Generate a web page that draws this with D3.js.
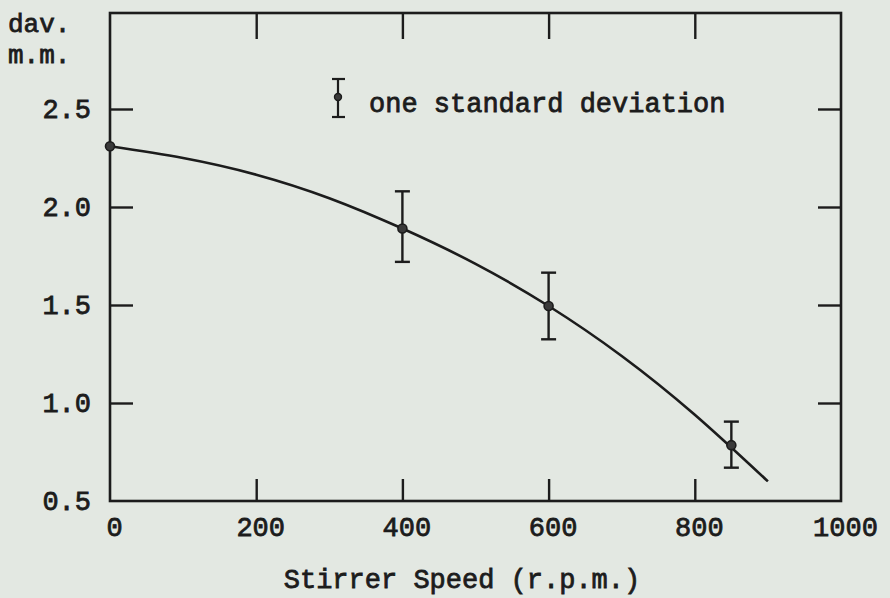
<!DOCTYPE html>
<html>
<head>
<meta charset="utf-8">
<script src="https://cdn.jsdelivr.net/npm/d3@7"></script>
<style>
  html, body { margin: 0; padding: 0; background: #e3e8e2; }
  svg { display: block; }
  text { font-family: "Liberation Mono", "DejaVu Sans Mono", monospace; fill: #1c1c1c; }
</style>
</head>
<body>
<svg id="chart" width="890" height="598"></svg>
<script>
// ---- data ----
const xTicks = [0, 200, 400, 600, 800, 1000];
const yTicks = [0.5, 1.0, 1.5, 2.0, 2.5];

// smooth fitted curve (hand-drawn in the original)
const curveSpeed = [0, 100, 200, 300, 400, 500, 600, 700, 800, 900];
const curveDav   = [2.31, 2.25, 2.165, 2.045, 1.89, 1.71, 1.495, 1.24, 0.94, 0.60];

// measured points with one standard deviation
const pointSpeed = [0, 400, 600, 850];
const pointDav   = [2.31, 1.89, 1.495, 0.785];
const pointLow   = [null, 1.72, 1.325, 0.67];
const pointHigh  = [null, 2.08, 1.665, 0.905];

const yLabelLines = ["dav.", "m.m."];
const xTitle = "Stirrer Speed (r.p.m.)";
const legendText = "one standard deviation";

// ---- drawing ----
const ink = "#1c1c1c";
const svg = d3.select("#chart");

const x = d3.scaleLinear().domain([0, 1000]).range([110, 841]);
const y = d3.scaleLinear().domain([0.5, 3.0]).range([501, 11]);

// frame
svg.append("rect")
  .attr("x", x(0)).attr("y", 13)
  .attr("width", x(1000) - x(0)).attr("height", y(0.5) - 13)
  .attr("fill", "none").attr("stroke", ink).attr("stroke-width", 2.6);

function styleAxis(g) {
  g.select(".domain").remove();
  g.selectAll(".tick line").attr("stroke", ink).attr("stroke-width", 2.4);
  g.selectAll(".tick text")
    .attr("font-size", 27)
    .attr("fill", ink)
    .attr("stroke", ink).attr("stroke-width", 0.8)
    .attr("font-family", "'Liberation Mono', 'DejaVu Sans Mono', monospace");
}

// left axis (labels + inward ticks)
svg.append("g")
  .attr("transform", `translate(${x(0)},0)`)
  .call(d3.axisLeft(y).tickValues(yTicks).tickFormat(d3.format(".1f"))
        .tickSizeInner(-23).tickSizeOuter(0).tickPadding(19))
  .call(styleAxis)
  .call(g => g.selectAll(".tick").filter(d => d === 0.5).select("line").remove());

// right axis (inward ticks only)
svg.append("g")
  .attr("transform", `translate(${x(1000)},0)`)
  .call(d3.axisRight(y).tickValues(yTicks.filter(d => d > 0.5)).tickFormat("")
        .tickSizeInner(-23).tickSizeOuter(0))
  .call(styleAxis);

// bottom axis
svg.append("g")
  .attr("transform", `translate(0,${y(0.5)})`)
  .call(d3.axisBottom(x).tickValues(xTicks).tickFormat(d3.format("d"))
        .tickSizeInner(-22).tickSizeOuter(0).tickPadding(16))
  .call(styleAxis)
  .call(g => g.selectAll(".tick text").attr("dx", 4))
  .call(g => g.selectAll(".tick").filter(d => d === 0 || d === 1000).select("line").remove());

// top axis (inward ticks only)
svg.append("g")
  .attr("transform", `translate(0,13)`)
  .call(d3.axisTop(x).tickValues(xTicks.filter(d => d > 0 && d < 1000)).tickFormat("")
        .tickSizeInner(-26).tickSizeOuter(0))
  .call(styleAxis);

// curve
const curveData = curveSpeed.map((s, i) => [s, curveDav[i]]);
svg.append("path")
  .datum(curveData)
  .attr("fill", "none").attr("stroke", ink).attr("stroke-width", 2.6)
  .attr("d", d3.line().x(d => x(d[0])).y(d => y(d[1])).curve(d3.curveNatural));

// error bars
const pts = pointSpeed.map((s, i) => ({ s, v: pointDav[i], lo: pointLow[i], hi: pointHigh[i] }));
const eb = svg.append("g").attr("stroke", ink).attr("stroke-width", 2.4);
pts.filter(p => p.lo !== null).forEach(p => {
  eb.append("line").attr("x1", x(p.s)).attr("x2", x(p.s)).attr("y1", y(p.lo)).attr("y2", y(p.hi));
  eb.append("line").attr("x1", x(p.s) - 7.5).attr("x2", x(p.s) + 7.5).attr("y1", y(p.lo)).attr("y2", y(p.lo));
  eb.append("line").attr("x1", x(p.s) - 7.5).attr("x2", x(p.s) + 7.5).attr("y1", y(p.hi)).attr("y2", y(p.hi));
});
svg.append("g").selectAll("circle").data(pts).join("circle")
  .attr("cx", d => x(d.s)).attr("cy", d => y(d.v)).attr("r", 4.5)
  .attr("fill", "#3a3a3a").attr("stroke", ink).attr("stroke-width", 1.6);

// legend
const lg = svg.append("g").attr("stroke", ink).attr("stroke-width", 2.2);
lg.append("line").attr("x1", 338).attr("x2", 338).attr("y1", 79).attr("y2", 117);
lg.append("line").attr("x1", 332).attr("x2", 345).attr("y1", 79).attr("y2", 79);
lg.append("line").attr("x1", 332).attr("x2", 345).attr("y1", 117).attr("y2", 117);
lg.append("circle").attr("cx", 338).attr("cy", 97).attr("r", 3.5).attr("fill", "#3a3a3a").attr("stroke-width", 1.4);
svg.append("text").attr("x", 369).attr("y", 112).attr("font-size", 27)
  .attr("stroke", ink).attr("stroke-width", 0.8).text(legendText);

// y-axis unit label
svg.append("g").selectAll("text").data(yLabelLines).join("text")
  .attr("x", 8).attr("y", (d, i) => 32 + i * 31)
  .attr("font-size", 26).attr("stroke", ink).attr("stroke-width", 0.8)
  .text(d => d);

// x-axis title
svg.append("text").attr("x", 462).attr("y", 588).attr("text-anchor", "middle")
  .attr("font-size", 27).attr("stroke", ink).attr("stroke-width", 0.8)
  .text(xTitle);
</script>
</body>
</html>
